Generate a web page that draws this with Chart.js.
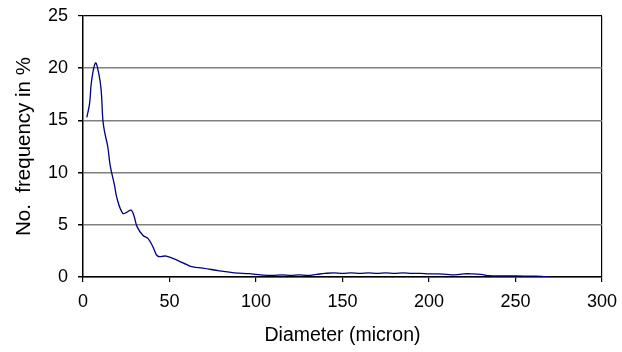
<!DOCTYPE html>
<html>
<head>
<meta charset="utf-8">
<script src="https://cdn.jsdelivr.net/npm/chart.js@4"></script>
<style>
  html, body { margin: 0; padding: 0; background: #fff; }
  #wrap { width: 622px; height: 352px; }
</style>
</head>
<body>
<div id="wrap"><canvas id="chart"></canvas></div>
<script>
// diameter (micron) and number frequency (%)
const diameters = [2.2, 3.8, 4.9, 7.2, 9.1, 10.5, 11.5, 12.6, 14.3, 15.7, 18.2, 19.7, 23, 25.3, 27.8, 29.4, 31.3, 34.6, 37.5, 40.4, 43.2, 48.1, 55.8, 59.7, 63.5, 69.3, 78.9, 87.6, 96.2, 100, 104, 110, 115, 120, 125, 130, 135, 140, 145, 150, 155, 160, 165, 170, 175, 180, 185, 190, 195, 200, 205, 210, 215, 220, 225, 230, 235, 240, 250, 260, 265, 270];
const frequency = [15.3, 16.6, 18.7, 20.5, 19.5, 17.9, 15.0, 13.8, 12.5, 10.7, 8.8, 7.5, 6.1, 6.2, 6.4, 5.9, 4.8, 4.0, 3.7, 2.9, 2.0, 2.0, 1.5, 1.2, 0.96, 0.86, 0.58, 0.4, 0.32, 0.25, 0.18, 0.15, 0.2, 0.15, 0.2, 0.15, 0.25, 0.35, 0.4, 0.35, 0.4, 0.35, 0.4, 0.35, 0.4, 0.35, 0.4, 0.35, 0.35, 0.3, 0.3, 0.25, 0.2, 0.3, 0.3, 0.25, 0.12, 0.1, 0.1, 0.08, 0.06, 0];

const xTicks = [0, 50, 100, 150, 200, 250, 300];
const yTicks = [0, 5, 10, 15, 20, 25];

const points = diameters.map((d, i) => ({ x: d, y: frequency[i] }));
const family = "'Liberation Sans', Arial, sans-serif";
const tickFont = { family, size: 18 };

new Chart(document.getElementById('chart'), {
  type: 'line',
  data: {
    datasets: [{
      data: points,
      borderColor: '#000080',
      borderWidth: 1.3,
      pointRadius: 0,
      tension: 0.4,
      fill: false
    }]
  },
  options: {
    responsive: true,
    maintainAspectRatio: false,
    animation: false,
    layout: { padding: { top: 16, right: 20, left: 0, bottom: 0 } },
    plugins: { legend: { display: false }, tooltip: { enabled: false } },
    scales: {
      x: {
        type: 'linear',
        min: 0, max: 300,
        afterBuildTicks: s => { s.ticks = xTicks.map(v => ({ value: v })); },
        afterFit: s => { s.height = 75; s.paddingLeft = 0; s.paddingRight = 0; },
        ticks: { color: '#000', font: tickFont, padding: 9, maxRotation: 0 },
        grid: {
          color: c => (c.tick && c.tick.value === 300) ? '#000' : 'rgba(0,0,0,0)',
          tickColor: '#000',
          tickLength: 5,
          lineWidth: 1.2
        },
        border: { color: '#000', width: 1.5 },
        title: { display: true, text: 'Diameter (micron)', color: '#000', font: { family, size: 19.5 }, padding: { top: 0, bottom: 5 } }
      },
      y: {
        min: 0, max: 25,
        afterBuildTicks: s => { s.ticks = yTicks.map(v => ({ value: v })); },
        afterFit: s => { s.width = 83; s.paddingTop = 0; s.paddingBottom = 0; },
        ticks: { color: '#000', font: tickFont, padding: 10 },
        grid: {
          color: c => (c.tick && c.tick.value === 25) ? '#000' : '#808080',
          tickColor: '#000',
          tickLength: 5,
          lineWidth: c => (c.tick && c.tick.value === 25) ? 1.2 : 1.5
        },
        border: { color: '#000', width: 1.5 },
        title: { display: true, text: 'No.  frequency in %', color: '#000', font: { family, size: 20.5 }, padding: { top: 12, bottom: 0 } }
      }
    }
  }
});
</script>
</body>
</html>
